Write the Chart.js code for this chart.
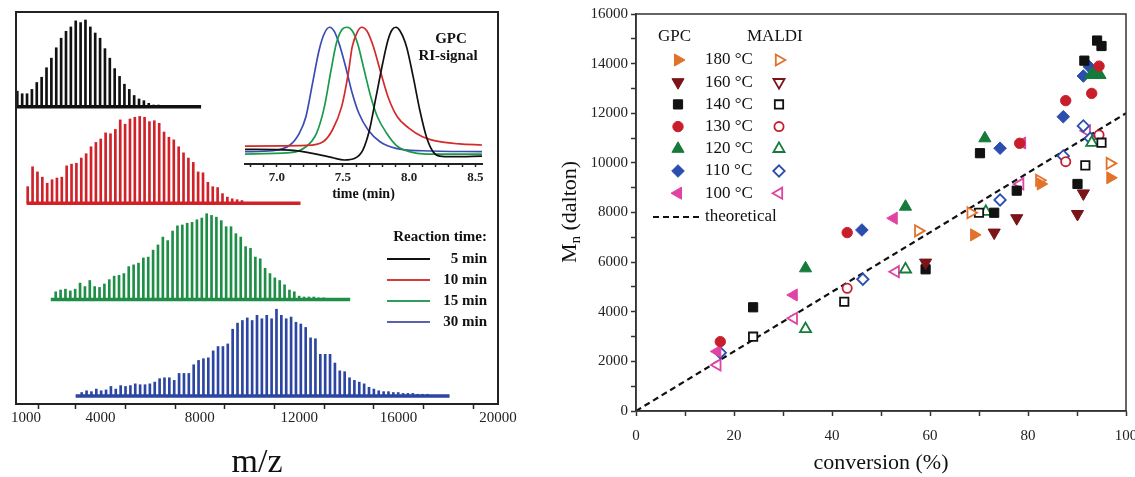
<!DOCTYPE html>
<html>
<head>
<meta charset="utf-8">
<title>MALDI spectra and Mn vs conversion</title>
<script src="https://cdn.jsdelivr.net/npm/chart.js@4.4.1/dist/chart.umd.min.js"></script>
<style>
  html, body { margin: 0; padding: 0; background: #fff; }
  body { width: 1135px; height: 477px; position: relative; overflow: hidden; }
  canvas { position: absolute; }
</style>
</head>
<body>
<canvas id="spectra" width="520" height="477" style="left:0;top:0"></canvas>
<canvas id="gpc" width="260" height="190" style="left:243px;top:14px"></canvas>
<canvas id="mn" width="640" height="477" style="left:520px;top:0"></canvas>
<script>
const serif = '"Liberation Serif", "Times New Roman", serif';
Chart.defaults.font.family = serif;
Chart.defaults.color = '#222';

// ---------- left panel: MALDI spectra ----------
const mzTicks = [1000, 2000, 4000, 6000, 8000, 10000, 12000, 14000, 16000, 18000, 20000];
const mzLabels = [1000, 4000, 8000, 12000, 16000, 20000];
const repeatUnit = 196; // m/z step between neighbouring peaks
const spectrumNames = ['5 min', '10 min', '15 min', '30 min'];
const spectrumColors = ['#111111', '#cf2229', '#1f8e47', '#2c46a2'];
const legendColors = ['#111111', '#d83a3a', '#2f9e5a', '#5a62b0'];
const firstPeak = [652, 1071, 2198, 3244];
const baseFrom = [600, 1030, 2000, 3000];
const baseTo = [8050, 12050, 14050, 18050];
const stackLevel = [3, 2, 1, 0];

// peak heights, % of the tallest peak in each spectrum
const peaks5 = [18, 15, 15, 20, 28, 34, 45, 56, 68, 79, 87, 92, 99, 97, 100, 92, 85, 79, 67, 56,
  44, 35, 26, 20, 13, 9, 7, 4, 2, 2];
const peaks10 = [19, 42, 36, 30, 23, 27, 29, 30, 43, 45, 46, 52, 57, 65, 70, 74, 81, 80, 85, 96,
  91, 97, 99, 100, 99, 94, 95, 92, 82, 76, 73, 65, 58, 52, 47, 36, 35, 24, 19, 18, 11, 7, 5, 4, 3];
const peaks15 = [9, 11, 12, 10, 12, 19, 15, 22, 15, 14, 18, 23, 27, 28, 30, 38, 40, 42, 48, 49,
  57, 63, 72, 68, 79, 85, 86, 88, 89, 92, 94, 99, 97, 95, 91, 84, 84, 76, 72, 61,
  59, 49, 47, 36, 30, 25, 22, 17, 11, 9, 4, 3, 3, 3, 2, 2];
const peaks30 = [4, 6, 5, 8, 6, 7, 11, 8, 12, 11, 12, 14, 13, 13, 14, 16, 20, 21, 21, 18,
  26, 26, 26, 36, 41, 43, 44, 52, 57, 57, 60, 77, 84, 87, 90, 87, 93, 89, 93, 89,
  100, 93, 89, 91, 85, 83, 79, 67, 66, 48, 48, 48, 38, 29, 28, 21, 18, 16, 14, 10,
  8, 6, 5, 5, 4, 4, 3, 3, 3, 2, 2, 2];
const allPeaks = [peaks5, peaks10, peaks15, peaks30];
const peakScale = 0.009;

const spectraSets = [];
allPeaks.forEach((hs, k) => {
  spectraSets.push({
    type: 'bar',
    data: hs.map((h, i) => ({x: firstPeak[k] + i * repeatUnit, y: [stackLevel[k], stackLevel[k] + h * peakScale]})),
    backgroundColor: spectrumColors[k],
    barThickness: 2,
    grouped: false
  });
  spectraSets.push({
    type: 'line',
    data: [{x: baseFrom[k], y: stackLevel[k]}, {x: baseTo[k], y: stackLevel[k]}],
    borderColor: spectrumColors[k],
    borderWidth: 3.5,
    pointRadius: 0
  });
});

const leftNotes = {
  id: 'leftNotes',
  afterDraw(chart) {
    const {ctx, chartArea: a} = chart;
    ctx.save();
    ctx.strokeStyle = '#222';
    ctx.lineWidth = 2;
    ctx.strokeRect(a.left, a.top, a.right - a.left, a.bottom - a.top);
    ctx.fillStyle = '#111';
    ctx.font = 'bold 15px ' + serif;
    ctx.textAlign = 'right';
    ctx.textBaseline = 'middle';
    ctx.fillText('Reaction time:', 487, 237);
    spectrumNames.forEach((name, k) => {
      const y = 259 + k * 21;
      ctx.strokeStyle = legendColors[k];
      ctx.lineWidth = 2;
      ctx.beginPath();
      ctx.moveTo(387, y);
      ctx.lineTo(430, y);
      ctx.stroke();
      ctx.fillText(name, 487, y);
    });
    ctx.textAlign = 'center';
    ctx.fillText('GPC', 451, 39);
    ctx.fillText('RI-signal', 448, 56);
    ctx.restore();
  }
};

new Chart(document.getElementById('spectra'), {
  type: 'bar',
  data: {datasets: spectraSets},
  options: {
    responsive: false,
    animation: false,
    layout: {padding: {left: 16, top: 12, right: 22, bottom: 0}},
    plugins: {legend: {display: false}, tooltip: {enabled: false}},
    scales: {
      x: {
        type: 'linear', min: 600, max: 20000, offset: false,
        afterBuildTicks: s => { s.ticks = mzTicks.map(v => ({value: v})); },
        afterFit: s => { s.height = 73; },
        ticks: {
          callback: v => mzLabels.includes(v) ? String(v) : '',
          autoSkip: false, maxRotation: 0, padding: 0,
          font: {size: 15}, color: '#222'
        },
        grid: {drawOnChartArea: false, tickLength: 5, tickColor: '#222', tickWidth: 1.5},
        border: {color: '#222', width: 2},
        title: {display: true, text: 'm/z', font: {size: 34, lineHeight: 0.8}, padding: {top: 0, bottom: 0}, color: '#111'}
      },
      y: {display: false, min: -0.083, max: 3.983}
    }
  },
  plugins: [leftNotes]
});

// ---------- inset: GPC RI signal ----------
const gpcTicks = [6.8, 6.9, 7.0, 7.1, 7.2, 7.3, 7.4, 7.5, 7.6, 7.7, 7.8, 7.9, 8.0, 8.1, 8.2, 8.3, 8.4, 8.5];
const gpcLabels = [7.0, 7.5, 8.0, 8.5];
const gpc5Time = [6.76, 7.10, 7.27, 7.42, 7.51, 7.59, 7.65, 7.70, 7.75, 7.80, 7.84, 7.87, 7.90, 7.93, 7.98, 8.03, 8.08, 8.13, 8.18, 8.23, 8.33, 8.55];
const gpc5Signal = [8.0, 7.5, 5.0, 1.8, 0, 1.3, 7.5, 22.6, 47.7, 72.9, 90.4, 98.0, 100, 97.4, 85.4, 62.8, 37.7, 17.6, 6.3, 3.0, 2.5, 3.0];
const gpc10Time = [6.76, 7.22, 7.35, 7.42, 7.49, 7.54, 7.57, 7.61, 7.64, 7.68, 7.73, 7.78, 7.84, 7.91, 8.00, 8.10, 8.23, 8.38, 8.55];
const gpc10Signal = [10.5, 11.0, 13.8, 22.6, 40.2, 65.3, 85.4, 96.7, 100, 97.4, 85.4, 67.8, 47.7, 32.6, 23.9, 17.6, 13.8, 12.1, 11.3];
const gpc15Time = [6.76, 7.10, 7.22, 7.30, 7.36, 7.41, 7.45, 7.49, 7.53, 7.57, 7.61, 7.66, 7.71, 7.76, 7.83, 7.90, 8.00, 8.13, 8.55];
const gpc15Signal = [4.5, 5.5, 10.0, 20.1, 40.2, 67.8, 87.9, 98.0, 100, 97.4, 87.9, 67.8, 47.7, 32.6, 20.1, 11.3, 6.3, 4.5, 4.5];
const gpc30Time = [6.76, 6.97, 7.10, 7.17, 7.22, 7.27, 7.32, 7.36, 7.40, 7.435, 7.47, 7.52, 7.57, 7.62, 7.69, 7.78, 7.90, 8.10, 8.55];
const gpc30Signal = [6.3, 7.0, 11.3, 20.1, 32.6, 57.8, 82.9, 95.5, 100, 96.7, 87.9, 70.3, 50.3, 35.2, 22.6, 13.8, 8.8, 7.0, 6.3];
const gpcColors = ['#111111', '#d42a2a', '#1a9a4a', '#3a4cb4'];
const gpcTimes = [gpc5Time, gpc10Time, gpc15Time, gpc30Time];
const gpcSignals = [gpc5Signal, gpc10Signal, gpc15Signal, gpc30Signal];

new Chart(document.getElementById('gpc'), {
  type: 'line',
  data: {
    datasets: gpcTimes.map((ts, k) => ({
      data: ts.map((t, i) => ({x: t, y: gpcSignals[k][i]})),
      borderColor: gpcColors[k],
      borderWidth: 1.7,
      pointRadius: 0,
      cubicInterpolationMode: 'monotone'
    }))
  },
  options: {
    responsive: false,
    animation: false,
    layout: {padding: {left: 2, top: 0, right: 21, bottom: 0}},
    plugins: {legend: {display: false}, tooltip: {enabled: false}},
    scales: {
      x: {
        type: 'linear', min: 6.76, max: 8.55,
        afterBuildTicks: s => { s.ticks = gpcTicks.map(v => ({value: v})); },
        afterFit: s => { s.height = 40; },
        ticks: {
          callback: v => gpcLabels.includes(v) ? v.toFixed(1) : '',
          autoSkip: false, maxRotation: 0, padding: 3,
          font: {size: 13, weight: 'bold'}, color: '#222'
        },
        grid: {drawOnChartArea: false, tickLength: 3, tickColor: '#222', tickWidth: 1.5},
        border: {color: '#222', width: 2},
        title: {display: true, text: 'time (min)', font: {size: 14, weight: 'bold', lineHeight: 1}, padding: {top: 0, bottom: 3}, color: '#111'}
      },
      y: {display: false, min: -3, max: 110}
    }
  }
});

// ---------- right panel: Mn vs conversion ----------
const tempNames = ['180 °C', '160 °C', '140 °C', '130 °C', '120 °C', '110 °C', '100 °C'];
const tempColors = ['#e2722a', '#7a1418', '#111111', '#c81e2c', '#167a3a', '#2b4eae', '#e043a4'];
const tempShapes = ['triangle', 'triangle', 'rect', 'circle', 'triangle', 'rectRot', 'triangle'];
const tempTurn = [90, 180, 0, 0, 0, 0, 270];
const tempSize = [7, 7, 6.5, 5.2, 7, 6.3, 7];

// [conversion %, Mn]
const gpc180 = [[69.0, 7100], [82.6, 9150], [96.8, 9400]];
const maldi180 = [[57.6, 7260], [68.3, 7990], [82.3, 9300], [96.7, 9980]];
const gpc160 = [[59.1, 5980], [73.1, 7190], [77.7, 7770], [90.1, 7940], [91.3, 8770]];
const maldi160 = [];
const gpc140 = [[23.9, 4180], [59.1, 5710], [70.2, 10390], [73.1, 7990], [77.7, 8880], [90.1, 9150], [91.5, 14120], [94.1, 14930], [95.0, 14710]];
const maldi140 = [[23.9, 2995], [42.5, 4405], [70.0, 7990], [91.7, 9900], [95.0, 10815]];
const gpc130 = [[17.2, 2795], [43.1, 7190], [78.3, 10790], [87.7, 12510], [93.0, 12800], [94.5, 13900]];
const maldi130 = [[43.1, 4945], [87.7, 10050], [94.5, 11125]];
const gpc120 = [[34.6, 5750], [55.0, 8235], [71.2, 10990], [92.8, 13540], [93.6, 13650], [94.7, 13540]];
const maldi120 = [[34.6, 3305], [55.0, 5710], [71.4, 8030], [93.0, 10815]];
const gpc110 = [[46.1, 7295], [74.3, 10590], [87.2, 11860], [91.3, 13500], [92.5, 13880]];
const maldi110 = [[17.2, 2350], [46.3, 5310], [74.3, 8505], [87.2, 10280], [91.3, 11490], [92.7, 10990]];
const gpc100 = [[16.6, 2400], [32.2, 4675], [52.6, 7770], [78.8, 10800]];
const maldi100 = [[16.6, 1855], [32.2, 3735], [53.0, 5615], [78.4, 9150], [92.0, 11290]];
const gpcSets = [gpc180, gpc160, gpc140, gpc130, gpc120, gpc110, gpc100];
const maldiSets = [maldi180, maldi160, maldi140, maldi130, maldi120, maldi110, maldi100];
const theoryConv = [0, 100];
const theoryMn = [0, 12000];

const mnSets = [];
gpcSets.forEach((pts, k) => mnSets.push({
  label: 'GPC ' + tempNames[k],
  data: pts.map(([x, y]) => ({x, y})),
  pointStyle: tempShapes[k], rotation: tempTurn[k], pointRadius: tempSize[k],
  backgroundColor: tempColors[k], borderColor: tempColors[k], borderWidth: 1
}));
maldiSets.forEach((pts, k) => mnSets.push({
  label: 'MALDI ' + tempNames[k],
  data: pts.map(([x, y]) => ({x, y})),
  pointStyle: tempShapes[k], rotation: tempTurn[k], pointRadius: tempSize[k] - 0.6,
  backgroundColor: '#ffffff', borderColor: tempColors[k], borderWidth: 1.8
}));
mnSets.push({
  type: 'line',
  label: 'theoretical',
  data: theoryConv.map((x, i) => ({x, y: theoryMn[i]})),
  borderColor: '#111', borderWidth: 2.2, borderDash: [6, 4], pointRadius: 0
});

const rightNotes = {
  id: 'rightNotes',
  afterDraw(chart) {
    const {ctx, chartArea: a} = chart;
    const draw = Chart.helpers.drawPoint;
    ctx.save();
    ctx.strokeStyle = '#333';
    ctx.lineWidth = 1.5;
    ctx.strokeRect(a.left, a.top, a.right - a.left, a.bottom - a.top);
    // legend
    ctx.fillStyle = '#111';
    ctx.font = '17px ' + serif;
    ctx.textBaseline = 'middle';
    ctx.textAlign = 'left';
    ctx.fillText('GPC', 138, 37);
    ctx.fillText('MALDI', 227, 37);
    tempNames.forEach((name, k) => {
      const y = 60 + k * 22.2;
      const st = {pointStyle: tempShapes[k], rotation: tempTurn[k], radius: tempSize[k], borderWidth: 1};
      ctx.fillStyle = tempColors[k];
      ctx.strokeStyle = tempColors[k];
      ctx.lineWidth = 1;
      draw(ctx, st, 158, y);
      ctx.fillStyle = '#fff';
      ctx.lineWidth = 1.8;
      draw(ctx, Object.assign({}, st, {radius: tempSize[k] - 0.6, borderWidth: 1.8}), 259, y);
      ctx.fillStyle = '#111';
      ctx.fillText(name, 185, y);
    });
    ctx.strokeStyle = '#111';
    ctx.lineWidth = 2.2;
    ctx.setLineDash([6, 4]);
    ctx.beginPath();
    ctx.moveTo(133, 217);
    ctx.lineTo(180, 217);
    ctx.stroke();
    ctx.setLineDash([]);
    ctx.fillText('theoretical', 185, 217);
    // y axis title with subscript
    ctx.translate(50, 212);
    ctx.rotate(-Math.PI / 2);
    ctx.font = '22px ' + serif;
    const wM = ctx.measureText('M').width;
    const wRest = ctx.measureText(' (dalton)').width;
    ctx.font = '15px ' + serif;
    const wn = ctx.measureText('n').width;
    let x0 = -(wM + wn + wRest) / 2;
    ctx.textAlign = 'left';
    ctx.font = '22px ' + serif;
    ctx.fillText('M', x0, 0);
    ctx.font = '15px ' + serif;
    ctx.fillText('n', x0 + wM, 6);
    ctx.font = '22px ' + serif;
    ctx.fillText(' (dalton)', x0 + wM + wn, 0);
    ctx.restore();
  }
};

new Chart(document.getElementById('mn'), {
  type: 'scatter',
  data: {datasets: mnSets},
  options: {
    responsive: false,
    animation: false,
    layout: {padding: {left: 0, top: 14, right: 34, bottom: 0}},
    plugins: {legend: {display: false}, tooltip: {enabled: false}},
    scales: {
      x: {
        type: 'linear', min: 0, max: 100,
        afterFit: s => { s.height = 66; },
        ticks: {
          stepSize: 10, autoSkip: false, maxRotation: 0, padding: 11,
          callback: v => v % 20 === 0 ? String(v) : '',
          font: {size: 15}, color: '#222'
        },
        grid: {drawOnChartArea: false, tickLength: 5, tickColor: '#333', tickWidth: 1.5},
        border: {color: '#333', width: 1.5},
        title: {display: true, text: 'conversion (%)', font: {size: 22}, padding: {top: 0, bottom: 1}, color: '#111'}
      },
      y: {
        type: 'linear', min: 0, max: 16000,
        afterFit: s => { s.width = 116; },
        ticks: {
          stepSize: 1000, autoSkip: false, padding: 3,
          callback: v => v % 2000 === 0 ? String(v) : '',
          font: {size: 15}, color: '#222'
        },
        grid: {drawOnChartArea: false, tickLength: 5, tickColor: '#333', tickWidth: 1.5},
        border: {color: '#333', width: 1.5}
      }
    }
  },
  plugins: [rightNotes]
});
</script>
</body>
</html>
